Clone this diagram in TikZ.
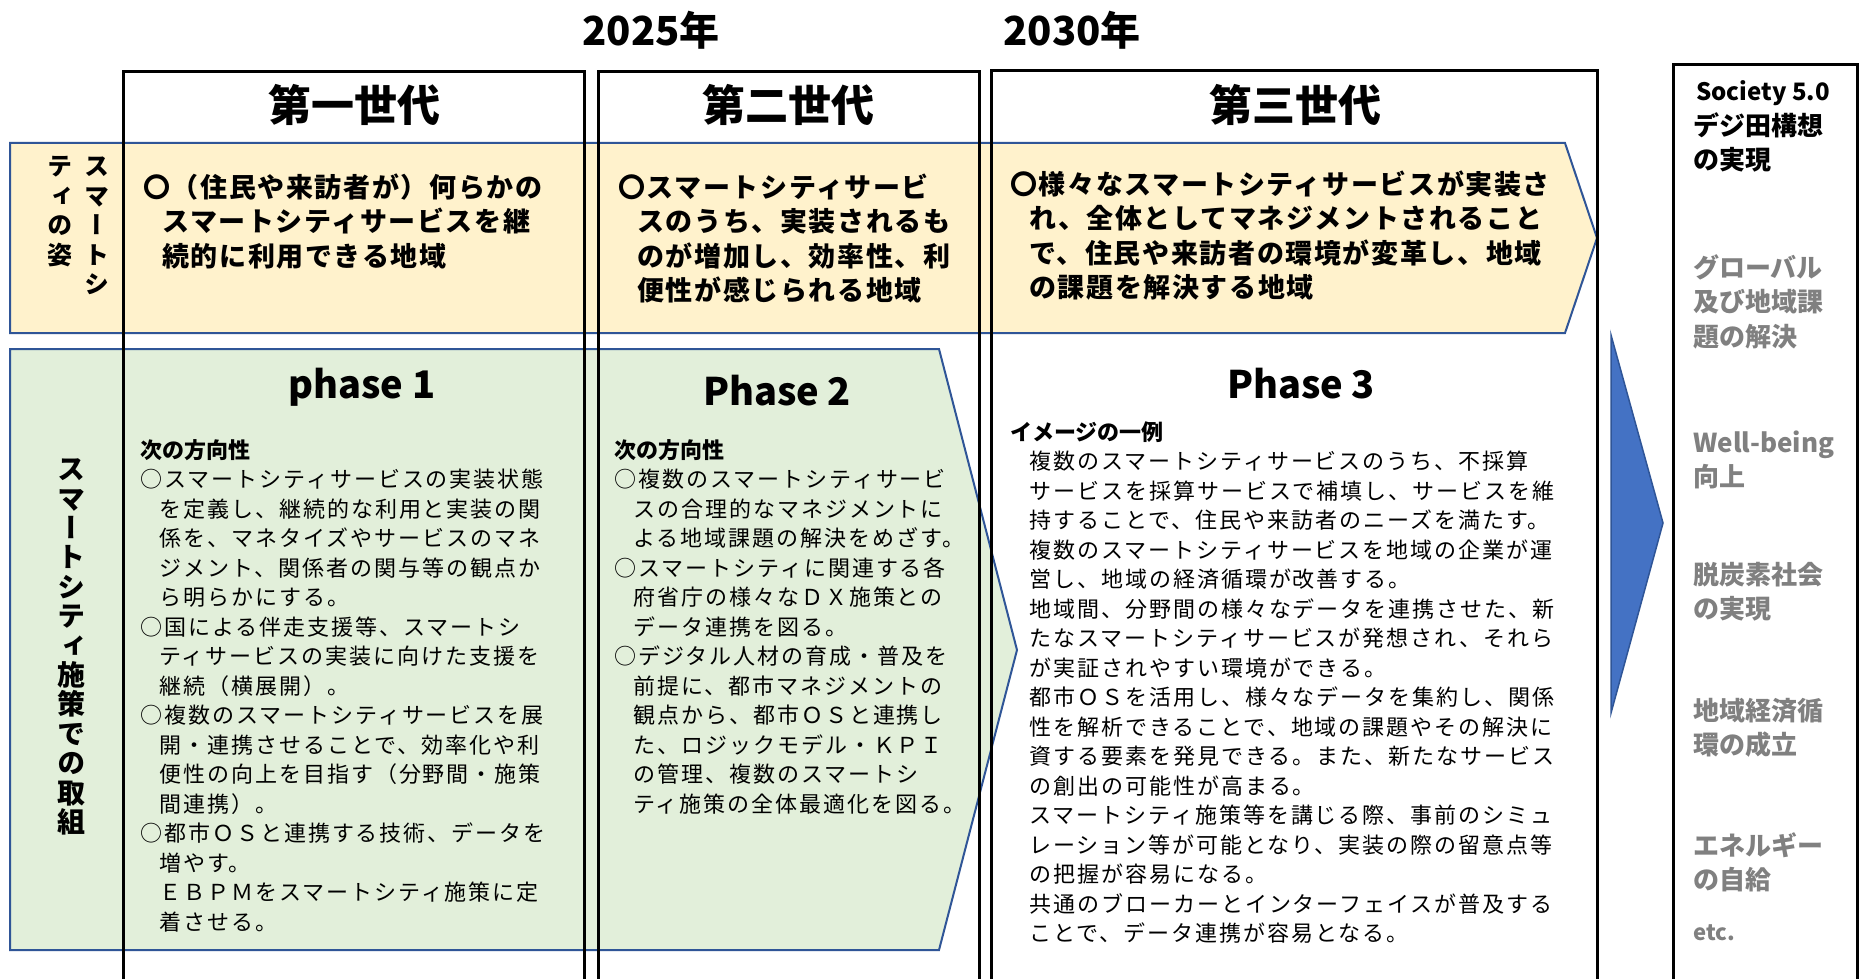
\documentclass[tikz,border=0pt]{standalone}
\usepackage{fontspec}
\setmainfont{Noto Sans CJK JP}
\newfontfamily\jpn{Noto Sans CJK JP}
\newfontfamily\jpy{Noto Sans CJK JP}[LetterSpace=6]
\newfontfamily\jpb{Noto Sans CJK JP}[LetterSpace=9]
\newfontfamily\jpv{Noto Sans CJK JP}[RawFeature=+vert]
\definecolor{bandblue}{HTML}{2F5597}
\definecolor{yelfill}{HTML}{FFF2CC}
\definecolor{grnfill}{HTML}{E2EFDA}
\definecolor{arrfill}{HTML}{4472C4}
\definecolor{gtext}{HTML}{808080}
\newcommand\myind{\hspace*{19pt}}
\begin{document}
\begin{tikzpicture}[x=1pt,y=-1pt,
  colline/.style={draw=black, line width=3pt},
  band/.style={draw=bandblue, line width=2pt},
  yeltxt/.style={anchor=base west, align=left, inner sep=0pt, font=\jpy\bfseries\fontsize{27}{34.5}\selectfont},
  bodytxt/.style={anchor=base west, align=left, inner sep=0pt, font=\jpb\fontsize{22}{29.5}\selectfont},
  gentitle/.style={inner sep=0pt, font=\jpn\bfseries\fontsize{43}{43}\selectfont},
  yeartxt/.style={inner sep=0pt, font=\jpn\bfseries\fontsize{40}{40}\selectfont},
  phasetxt/.style={inner sep=0pt, font=\jpn\bfseries\fontsize{38}{38}\selectfont},
  rtxt/.style={anchor=base west, align=left, inner sep=0pt, font=\jpn\bfseries\fontsize{26}{34.5}\selectfont},
  rgray/.style={rtxt, text=gtext},
  vA/.style={inner sep=0pt, text height=22pt, text depth=3pt, font=\jpv\bfseries\fontsize{25}{25}\selectfont},
  vB/.style={inner sep=0pt, text height=24.6pt, text depth=3.4pt, font=\jpv\bfseries\fontsize{28}{28}\selectfont},
]
\useasboundingbox (0,0) rectangle (1863,979);
\fill[white] (0,0) rectangle (1863,979);

% bands
\path[band, fill=yelfill] (10,143) -- (1565,143) -- (1597,238) -- (1565,333) -- (10,333) -- cycle;
\path[band, fill=grnfill] (10,349) -- (939,349) -- (1017,650) -- (939,950) -- (10,950) -- cycle;

% generation columns
\draw[colline] (123,982) -- (123,72) -- (584,72) -- (584,982);
\draw[colline] (598,982) -- (598,72) -- (979,72) -- (979,982);
\draw[colline] (991,982) -- (991,71) -- (1597,71) -- (1597,982);
\draw[colline] (1673,982) -- (1673,65) -- (1857,65) -- (1857,982);

% big arrow
\path[draw=bandblue, line width=1.5pt, fill=arrfill] (1611,335) -- (1663,523) -- (1611,713) -- cycle;

% years
\node[yeartxt] (y2025) at (651,30) {2025年};
\node[yeartxt] (y2030) at (1072,30) {2030年};

% generation titles
\node[gentitle] (g1title) at (354,105) {第一世代};
\node[gentitle] (g2title) at (788,105) {第二世代};
\node[gentitle] (g3title) at (1295,105) {第三世代};

% vertical labels
\foreach \ch [count=\k] in {ス,マ,ー,ト,シ}
  \node[vA] (va\k) at (97,{166+29.5*(\k-1)}) {\ch};
\foreach \ch [count=\k] in {テ,ィ,の,姿}
  \node[vA] (vb\k) at (60,{166+29.5*(\k-1)}) {\ch};
\foreach \ch [count=\k] in {ス,マ,ー,ト,シ,テ,ィ,施,策,で,の,取,組}
  \node[vB] (vc\k) at (71,{469+29.4*(\k-1)}) {\ch};

% yellow band texts (anchor = baseline of last line)
\node[yeltxt] (y1) at (143,266) {〇（住民や来訪者が）何らかの\\
\myind スマートシティサービスを継\\
\myind 続的に利用できる地域};
\node[yeltxt] (y2) at (618,300.5) {〇スマートシティサービ\\
\myind スのうち、実装されるも\\
\myind のが増加し、効率性、利\\
\myind 便性が感じられる地域};
\node[yeltxt] (y3) at (1010,297.5) {〇様々なスマートシティサービスが実装さ\\
\myind れ、全体としてマネジメントされること\\
\myind で、住民や来訪者の環境が変革し、地域\\
\myind の課題を解決する地域};

% phase titles
\node[phasetxt] (ph1) at (362,387) {phase 1};
\node[phasetxt] (ph2) at (777,391) {Phase 2};
\node[phasetxt] (ph3) at (1301,384) {Phase 3};

% phase bodies (anchor = baseline of last line)
\node[bodytxt] (p1body) at (140,930) {{\jpn\bfseries 次の方向性}\\
○スマートシティサービスの実装状態\\
\myind を定義し、継続的な利用と実装の関\\
\myind 係を、マネタイズやサービスのマネ\\
\myind ジメント、関係者の関与等の観点か\\
\myind ら明らかにする。\\
○国による伴走支援等、スマートシ\\
\myind ティサービスの実装に向けた支援を\\
\myind 継続（横展開）。\\
○複数のスマートシティサービスを展\\
\myind 開・連携させることで、効率化や利\\
\myind 便性の向上を目指す（分野間・施策\\
\myind 間連携）。\\
○都市ＯＳと連携する技術、データを\\
\myind 増やす。\\
\myind ＥＢＰＭをスマートシティ施策に定\\
\myind 着させる。};

\node[bodytxt] (p2body) at (614,812) {{\jpn\bfseries 次の方向性}\\
○複数のスマートシティサービ\\
\myind スの合理的なマネジメントに\\
\myind よる地域課題の解決をめざす。\\
○スマートシティに関連する各\\
\myind 府省庁の様々なＤＸ施策との\\
\myind データ連携を図る。\\
○デジタル人材の育成・普及を\\
\myind 前提に、都市マネジメントの\\
\myind 観点から、都市ＯＳと連携し\\
\myind た、ロジックモデル・ＫＰＩ\\
\myind の管理、複数のスマートシ\\
\myind ティ施策の全体最適化を図る。};

\node[bodytxt] (p3body) at (1010,941.5) {{\jpn\bfseries イメージの一例}\\
\myind 複数のスマートシティサービスのうち、不採算\\
\myind サービスを採算サービスで補填し、サービスを維\\
\myind 持することで、住民や来訪者のニーズを満たす。\\
\myind 複数のスマートシティサービスを地域の企業が運\\
\myind 営し、地域の経済循環が改善する。\\
\myind 地域間、分野間の様々なデータを連携させた、新\\
\myind たなスマートシティサービスが発想され、それら\\
\myind が実証されやすい環境ができる。\\
\myind 都市ＯＳを活用し、様々なデータを集約し、関係\\
\myind 性を解析できることで、地域の課題やその解決に\\
\myind 資する要素を発見できる。また、新たなサービス\\
\myind の創出の可能性が高まる。\\
\myind スマートシティ施策等を講じる際、事前のシミュ\\
\myind レーション等が可能となり、実装の際の留意点等\\
\myind の把握が容易になる。\\
\myind 共通のブローカーとインターフェイスが普及する\\
\myind ことで、データ連携が容易となる。};

% right box
\node[rtxt, font=\jpn\bfseries\fontsize{24}{24}\selectfont] (soc) at (1696,101) {Society 5.0};
\node[rtxt] (digi) at (1693,169.5) {デジ田構想\\の実現};
\node[rgray] (gr1) at (1693,346) {グローバル\\及び地域課\\題の解決};
\node[rgray] (gr2) at (1693,486.5) {Well-being\\向上};
\node[rgray] (gr3) at (1693,618.5) {脱炭素社会\\の実現};
\node[rgray] (gr4) at (1693,754.5) {地域経済循\\環の成立};
\node[rgray] (gr5) at (1693,889.5) {エネルギー\\の自給};
\node[rgray, font=\jpn\bfseries\fontsize{22}{22}\selectfont] (gr6) at (1693,940) {etc.};
\end{tikzpicture}
\end{document}
